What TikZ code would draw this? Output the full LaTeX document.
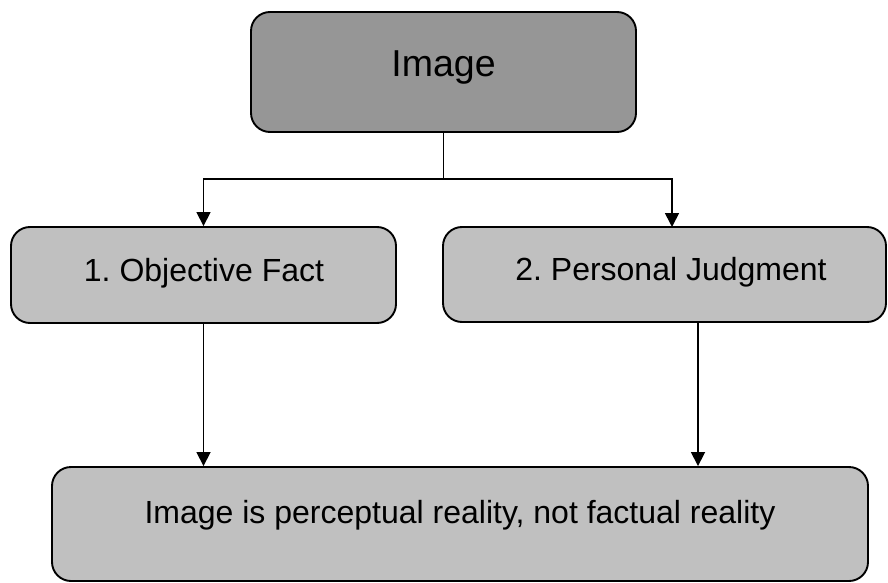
\documentclass[tikz,border=0pt]{standalone}
\usepackage{fontspec}
\setmainfont{Liberation Sans}
\usetikzlibrary{arrows.meta}
\definecolor{darkbox}{HTML}{969696}
\definecolor{lightbox}{HTML}{C0C0C0}
\frenchspacing
\tikzset{
  boxbase/.style={draw=black, line width=1.9pt, rounded corners=19pt, inner sep=0pt},
  topbox/.style={boxbase, fill=darkbox},
  midbox/.style={boxbase, fill=lightbox},
  bigtext/.style={anchor=base, inner sep=0pt, font=\fontsize{37.5}{45}\selectfont},
  smalltext/.style={anchor=base, inner sep=0pt, font=\fontsize{32}{38}\selectfont},
  conn/.style={line width=1.7pt},
  arr/.style={conn, -{Triangle[width=14pt,length=14pt]}}
}
\begin{document}
\begin{tikzpicture}[x=1pt,y=-1pt]
\useasboundingbox (0,0) rectangle (888,583);
% boxes
\node[topbox, minimum width=385pt, minimum height=120pt] (img) at (443.5,72) {};
\node[midbox, minimum width=385pt, minimum height=96pt] (obj) at (203.5,275) {};
\node[midbox, minimum width=443pt, minimum height=95pt] (judg) at (664.5,274.5) {};
\node[midbox, minimum width=816pt, minimum height=114pt] (res) at (460,524) {};
% texts
\node[bigtext] (imgT) at (443.5,77) {Image};
\node[smalltext] (objT) at (204,281) {1. Objective Fact};
\node[smalltext] (judgT) at (671,280.5) {2. Personal Judgment};
\node[smalltext] (resT) at (460,523) {Image is perceptual reality, not factual reality};
% connectors
\coordinate (junc) at (443.5,179);
\coordinate (jin) at (672,227);
\coordinate (jout) at (698,322);
\draw[conn] (img.south) -- (junc);
\draw[arr] (junc) -| (obj.north);
\draw[arr] (junc) -| (jin);
\draw[arr] (obj.south) -- (obj.south |- res.north);
\draw[arr] (jout) -- (jout |- res.north);
\end{tikzpicture}
\end{document}
